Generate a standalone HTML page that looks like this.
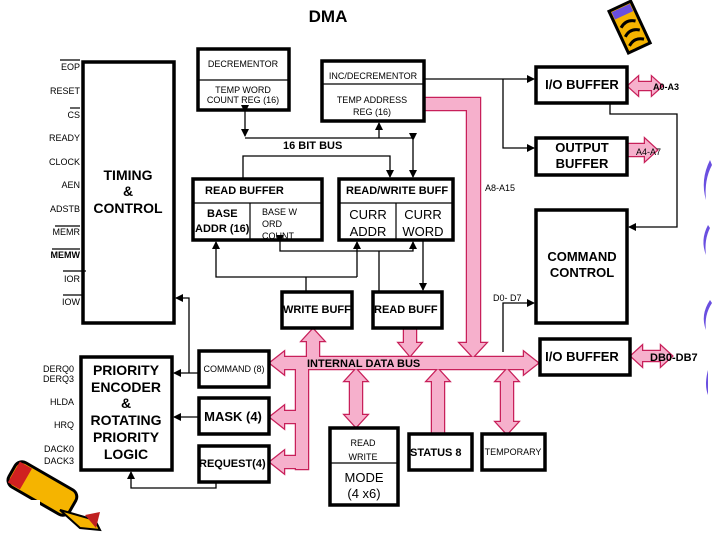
<!DOCTYPE html>
<html><head><meta charset="utf-8"><style>
html,body{margin:0;padding:0;background:#fff;}
svg{display:block;}
text{font-family:"Liberation Sans",sans-serif;fill:#000;}
.s{font-size:9px;}
.b{font-weight:bold;}
</style></head><body>
<svg width="720" height="540" viewBox="0 0 720 540" xmlns="http://www.w3.org/2000/svg">
<defs>
<marker id="ah" markerWidth="8" markerHeight="8" refX="7" refY="4" orient="auto" markerUnits="userSpaceOnUse"><path d="M0,0 L8,4 L0,8 Z" fill="#000"/></marker>
<g id="bus">
<path d="M270,363 L284,352 L284,357 L524,357 L524,352 L538,363 L524,374 L524,369 L284,369 L284,374 Z"/>
<rect x="296" y="363" width="12" height="106"/>
<path d="M270,417 L284,406 L284,411 L302,411 L302,423 L284,423 L284,428 Z"/>
<path d="M270,462 L284,451 L284,456 L302,456 L302,468 L284,468 L284,473 Z"/>
<path d="M313,329 L324,341 L319,341 L319,363 L307,363 L307,341 L302,341 Z"/>
<path d="M404,329 L416,329 L416,343 L421,343 L410,356 L399,343 L404,343 Z"/>
<path d="M424,98 L480,98 L480,343 L486,343 L473,357 L460,343 L467,343 L467,110 L424,110 Z"/>
<path d="M356,369 L367,381 L362,381 L362,415 L367,415 L356,427 L345,415 L350,415 L350,381 L345,381 Z"/>
<path d="M438,369 L449,381 L444,381 L444,434 L432,434 L432,381 L427,381 Z"/>
<path d="M507,369 L518,381 L513,381 L513,422 L518,422 L507,434 L496,422 L501,422 L501,381 L496,381 Z"/>
<path d="M628,86 L638,77 L638,82 L652,82 L652,77 L662,86 L652,95 L652,90 L638,90 L638,95 Z"/>
<path d="M627,144 L645,144 L645,139 L657,150 L645,161 L645,156 L627,156 Z"/>
<path d="M631,356 L642,346 L642,351 L661,351 L661,346 L672,356 L661,366 L661,361 L642,361 L642,366 Z"/>
</g>
</defs>

<text x="328" y="22" font-size="17" font-weight="bold" text-anchor="middle">DMA</text>

<!-- pink buses -->
<use href="#bus" fill="#f6a6c6" stroke="#c8205a" stroke-width="2.5"/>
<use href="#bus" fill="#f6b0cc" stroke="none"/>

<!-- pencils / decorations -->
<g transform="translate(630,28) rotate(-25)">
<rect x="-12" y="-24" width="24" height="46" fill="#f5b400" stroke="#000" stroke-width="3"/>
<rect x="-10" y="-22" width="20" height="8" fill="#6a4fe0"/>
<path d="M-8,-4 Q0,-10 8,-4 M-8,6 Q0,0 8,6 M-8,16 Q0,10 8,16" stroke="#000" stroke-width="3" fill="none"/>
</g>
<g transform="translate(45,490) rotate(30)">
<rect x="-38" y="-14" width="70" height="28" rx="8" fill="#f5b400" stroke="#000" stroke-width="3"/>
<rect x="-36" y="-12" width="14" height="24" fill="#d02020"/>
</g>
<rect x="0" y="500" width="40" height="40" fill="#fff"/>
<path d="M60,510 L95,520 L100,530 L80,528 Z" fill="#f5b400" stroke="#000" stroke-width="2"/>
<path d="M85,515 L100,512 L96,528 Z" fill="#c02020"/>
<g fill="#6a4fe0">
<path d="M710,160 Q700,180 706,200 Q704,180 712,165 Z"/>
<path d="M708,225 Q700,240 706,255 Q704,240 710,228 Z"/>
<path d="M710,300 Q700,315 706,330 Q704,315 712,303 Z"/>
<path d="M708,370 Q704,385 708,395 Z"/>
</g>

<g fill="none" stroke="#000" stroke-width="3.5">
<rect x="83" y="62" width="91" height="261"/>
<rect x="198" y="49" width="91" height="61"/>
<rect x="322" y="61" width="102" height="60"/>
<rect x="536" y="67" width="91" height="36"/>
<rect x="536" y="138" width="91" height="37"/>
<rect x="193" y="179" width="129" height="61"/>
<rect x="339" y="179" width="114" height="61"/>
<rect x="536" y="210" width="91" height="113"/>
<rect x="282" y="292" width="70" height="36"/>
<rect x="373" y="292" width="69" height="36"/>
<rect x="81" y="357" width="91" height="113"/>
<rect x="199" y="351" width="70" height="36"/>
<rect x="199" y="398" width="70" height="36"/>
<rect x="199" y="446" width="70" height="36"/>
<rect x="330" y="428" width="68" height="77"/>
<rect x="409" y="434" width="63" height="36"/>
<rect x="482" y="434" width="63" height="36"/>
<rect x="540" y="339" width="90" height="36"/>
</g>
<g stroke="#000" stroke-width="1.2" fill="none">
<line x1="198" y1="80" x2="289" y2="80"/>
<line x1="322" y1="84" x2="424" y2="84"/>
<line x1="193" y1="203" x2="322" y2="203"/>
<line x1="250" y1="203" x2="250" y2="240"/>
<line x1="339" y1="203" x2="453" y2="203"/>
<line x1="396" y1="203" x2="396" y2="240"/>
<line x1="330" y1="463" x2="398" y2="463"/>
<!-- overlines for signals -->
<line x1="60" y1="60" x2="80" y2="60"/>
<line x1="70" y1="108" x2="80" y2="108"/>
<line x1="55" y1="226" x2="80" y2="226"/>
<line x1="52" y1="249" x2="80" y2="249"/>
<line x1="63" y1="271" x2="86" y2="271"/>
<line x1="63" y1="295" x2="82" y2="295"/>
</g>
<g stroke="#000" stroke-width="1.3" fill="none">
<!-- 16 bit bus connections -->
<line x1="245" y1="112" x2="245" y2="136" marker-start="url(#ah)" marker-end="url(#ah)"/>
<line x1="245" y1="138" x2="413" y2="138"/>
<line x1="379" y1="138" x2="379" y2="123" marker-end="url(#ah)"/>
<line x1="413" y1="140" x2="413" y2="177" marker-start="url(#ah)" marker-end="url(#ah)"/>
<polyline points="243,179 243,156 390,156 390,177" marker-end="url(#ah)"/>
<!-- lower connections -->
<polyline points="357,277 216,277 216,242" marker-end="url(#ah)"/>
<line x1="357" y1="277" x2="357" y2="242" marker-end="url(#ah)"/>
<line x1="306" y1="277" x2="306" y2="292"/>
<polyline points="280,242 280,251 413,251 413,242" marker-start="url(#ah)" marker-end="url(#ah)"/>
<line x1="379" y1="251" x2="379" y2="292"/>
<line x1="423" y1="240" x2="423" y2="290" marker-end="url(#ah)"/>
<!-- right side -->
<line x1="424" y1="79" x2="534" y2="79" marker-end="url(#ah)"/>
<polyline points="503,79 503,148 534,148" marker-end="url(#ah)"/>
<polyline points="610,103 610,114 677,114 677,227 629,227" marker-end="url(#ah)"/>
<polyline points="503,352 503,303 534,303" marker-end="url(#ah)"/>
<!-- priority connections -->
<line x1="199" y1="373" x2="174" y2="373" marker-end="url(#ah)"/>
<polyline points="189,373 189,298 176,298" marker-end="url(#ah)"/>
<line x1="199" y1="417" x2="174" y2="417" marker-end="url(#ah)"/>
<polyline points="216,482 216,488 131,488 131,472" marker-end="url(#ah)"/>
</g>

<!-- signal labels -->
<g class="s" text-anchor="end">
<text x="80" y="70">EOP</text>
<text x="80" y="94">RESET</text>
<text x="80" y="118">CS</text>
<text x="80" y="141">READY</text>
<text x="80" y="165">CLOCK</text>
<text x="80" y="188">AEN</text>
<text x="80" y="212">ADSTB</text>
<text x="80" y="235">MEMR</text>
<text x="80" y="258" font-weight="bold">MEMW</text>
<text x="80" y="282">IOR</text>
<text x="80" y="305">IOW</text>
<text x="74" y="372">DERQ0</text>
<text x="74" y="382">DERQ3</text>
<text x="74" y="405">HLDA</text>
<text x="74" y="428">HRQ</text>
<text x="74" y="452">DACK0</text>
<text x="74" y="464">DACK3</text>
</g>

<g class="b" font-size="14" text-anchor="middle">
<text x="128" y="180">TIMING</text>
<text x="128" y="196">&amp;</text>
<text x="128" y="213">CONTROL</text>
<text x="126" y="375">PRIORITY</text>
<text x="126" y="392">ENCODER</text>
<text x="126" y="408">&amp;</text>
<text x="126" y="425">ROTATING</text>
<text x="126" y="442">PRIORITY</text>
<text x="126" y="459">LOGIC</text>
</g>

<g class="s" text-anchor="middle">
<text x="243" y="67">DECREMENTOR</text>
<text x="243" y="93">TEMP WORD</text>
<text x="243" y="103">COUNT REG (16)</text>
<text x="373" y="79">INC/DECREMENTOR</text>
<text x="372" y="103">TEMP ADDRESS</text>
<text x="372" y="115">REG (16)</text>
<text x="234" y="372">COMMAND (8)</text>
<text x="513" y="455">TEMPORARY</text>
</g>
<g class="s">
<text x="262" y="215">BASE W</text>
<text x="262" y="227">ORD</text>
<text x="262" y="239">COUNT</text>
<text x="485" y="191">A8-A15</text>
<text x="493" y="301">D0- D7</text>
<text x="653" y="90" font-weight="bold">A0-A3</text>
<text x="636" y="155">A4-A7</text>
</g>

<g class="b" font-size="11">
<text x="283" y="149">16 BIT BUS</text>
<text x="205" y="194">READ BUFFER</text>
<text x="346" y="194">READ/WRITE BUFF</text>
<text x="207" y="217">BASE</text>
<text x="195" y="232">ADDR (16)</text>
<text x="283" y="313">WRITE BUFF</text>
<text x="374" y="313">READ BUFF</text>
<text x="307" y="367">INTERNAL DATA BUS</text>
<text x="410" y="456">STATUS 8</text>
<text x="199" y="467">REQUEST(4)</text>
<text x="650" y="361">DB0-DB7</text>
</g>

<g font-size="13" text-anchor="middle">
<text x="368" y="219">CURR</text>
<text x="368" y="236">ADDR</text>
<text x="423" y="219">CURR</text>
<text x="423" y="236">WORD</text>
<text x="364" y="482">MODE</text>
<text x="364" y="498">(4 x6)</text>
</g>
<g class="b" font-size="13" text-anchor="middle">
<text x="582" y="89">I/O BUFFER</text>
<text x="582" y="152">OUTPUT</text>
<text x="582" y="168">BUFFER</text>
<text x="582" y="261">COMMAND</text>
<text x="582" y="277">CONTROL</text>
<text x="582" y="361">I/O BUFFER</text>
<text x="233" y="421">MASK (4)</text>
</g>
<g class="s" text-anchor="middle" font-size="10">
<text x="363" y="446">READ</text>
<text x="363" y="460">WRITE</text>
</g>
</svg>
</body></html>
